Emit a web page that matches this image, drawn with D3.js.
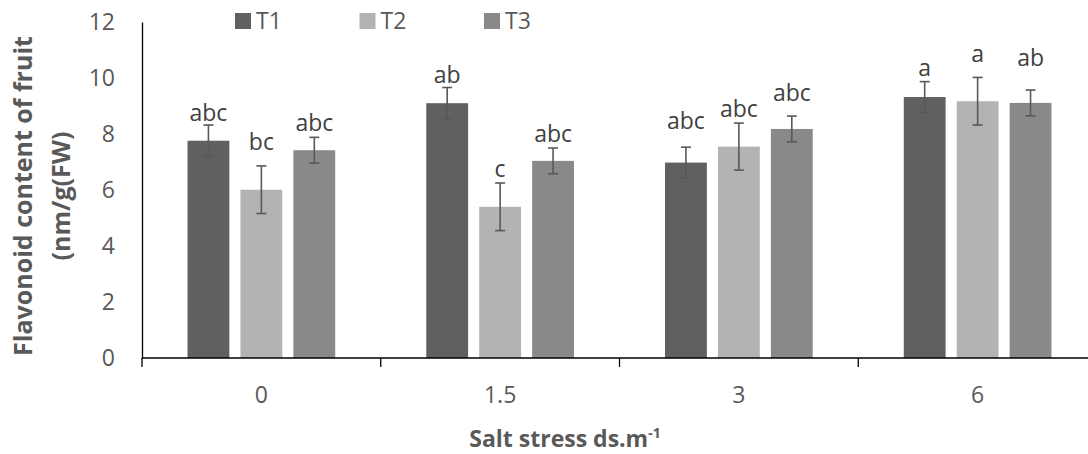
<!DOCTYPE html>
<html>
<head>
<meta charset="utf-8">
<script src="https://cdn.jsdelivr.net/npm/d3@7"></script>
<style>
  body { margin: 0; background: #fff; }
  text { font-family: "Open Sans", "Noto Sans", sans-serif; }
</style>
</head>
<body>
<div id="chart"></div>
<script>
// data
const categories = ["0", "1.5", "3", "6"];
const seriesNames = ["T1", "T2", "T3"];
const T1 = [7.76, 9.10, 6.98, 9.32];
const T2 = [6.01, 5.40, 7.55, 9.17];
const T3 = [7.42, 7.04, 8.18, 9.11];
const errT1 = [0.56, 0.56, 0.55, 0.55];
const errT2 = [0.85, 0.85, 0.84, 0.85];
const errT3 = [0.46, 0.46, 0.46, 0.46];
// significance letters, and the level (in chart units) where each one sits
const letters = [
  ["abc", "bc", "abc"],
  ["ab", "c", "abc"],
  ["abc", "abc", "abc"],
  ["a", "a", "ab"]
];
const letterLevel = [
  [8.46, 7.43, 8.12],
  [9.83, 6.48, 7.72],
  [8.17, 8.60, 9.19],
  [10.07, 10.58, 10.43]
];
const yTicks = [0, 2, 4, 6, 8, 10, 12];

const values = [T1, T2, T3];
const errors = [errT1, errT2, errT3];
const colors = ["#606060", "#b3b3b3", "#898989"];

const W = 1088, H = 454;
const plotLeft = 142, plotRight = 1097, plotTop = 22, plotBottom = 358;

const svg = d3.select("#chart").append("svg")
    .attr("width", W)
    .attr("height", H);

const x0 = d3.scaleBand().domain(categories).range([plotLeft, plotRight]);
const x1 = d3.scaleBand().domain(seriesNames)
    .range([0, x0.bandwidth()])
    .paddingInner(0.21)
    .paddingOuter(0.86);
const y = d3.scaleLinear().domain([0, 12]).range([plotBottom, plotTop]);

// y axis
const yAxis = svg.append("g")
    .attr("transform", "translate(" + plotLeft + ",0)")
    .call(d3.axisLeft(y).tickValues(yTicks).tickSize(0).tickPadding(27).tickSizeOuter(0));
yAxis.select(".domain").attr("stroke", "#000").attr("stroke-width", 1.3);
yAxis.selectAll("text")
    .attr("fill", "#595959")
    .style("font-size", "23px");

// bars
const groups = svg.selectAll(".grp")
    .data(categories)
    .enter().append("g")
    .attr("transform", d => "translate(" + x0(d) + ",0)");

seriesNames.forEach((s, si) => {
  groups.append("rect")
    .attr("x", x1(s))
    .attr("y", (d, ci) => y(values[si][ci]))
    .attr("width", x1.bandwidth())
    .attr("height", (d, ci) => y(0) - y(values[si][ci]))
    .attr("fill", colors[si]);
});

// error bars
seriesNames.forEach((s, si) => {
  const cx = x1(s) + x1.bandwidth() / 2;
  const eb = groups.append("g").attr("stroke", "#595959").attr("stroke-width", 1.6);
  eb.append("line")
    .attr("x1", cx).attr("x2", cx)
    .attr("y1", (d, ci) => y(values[si][ci] + errors[si][ci]))
    .attr("y2", (d, ci) => y(values[si][ci] - errors[si][ci]));
  eb.append("line")
    .attr("x1", cx - 5).attr("x2", cx + 5)
    .attr("y1", (d, ci) => y(values[si][ci] + errors[si][ci]))
    .attr("y2", (d, ci) => y(values[si][ci] + errors[si][ci]));
  eb.append("line")
    .attr("x1", cx - 5).attr("x2", cx + 5)
    .attr("y1", (d, ci) => y(values[si][ci] - errors[si][ci]))
    .attr("y2", (d, ci) => y(values[si][ci] - errors[si][ci]));
});

// letters
seriesNames.forEach((s, si) => {
  groups.append("text")
    .attr("x", x1(s) + x1.bandwidth() / 2)
    .attr("y", (d, ci) => y(letterLevel[ci][si]))
    .attr("text-anchor", "middle")
    .attr("fill", "#404040")
    .style("font-size", "23px")
    .text((d, ci) => letters[ci][si]);
});

// x axis
svg.append("line")
    .attr("x1", plotLeft).attr("x2", plotRight)
    .attr("y1", y(0)).attr("y2", y(0))
    .attr("stroke", "#000").attr("stroke-width", 1.3);
svg.selectAll(".xtick")
    .data(categories.concat(["end"]))
    .enter().append("line")
    .attr("x1", d => d === "end" ? plotRight : x0(d))
    .attr("x2", d => d === "end" ? plotRight : x0(d))
    .attr("y1", y(0)).attr("y2", y(0) + 9)
    .attr("stroke", "#000").attr("stroke-width", 1.3);
svg.selectAll(".xlab")
    .data(categories)
    .enter().append("text")
    .attr("x", d => x0(d) + x0.bandwidth() / 2)
    .attr("y", 403)
    .attr("text-anchor", "middle")
    .attr("fill", "#595959")
    .style("font-size", "23px")
    .text(d => d);

// axis titles
const xt = svg.append("text")
    .attr("x", 565).attr("y", 447)
    .attr("text-anchor", "middle")
    .attr("fill", "#595959")
    .style("font-size", "23px")
    .style("font-weight", "bold");
xt.append("tspan").text("Salt stress ds.m");
xt.append("tspan").attr("dy", -9).style("font-size", "14px").text("-1");

const yt = svg.append("text")
    .attr("transform", "translate(32,196) rotate(-90)")
    .attr("text-anchor", "middle")
    .attr("fill", "#595959")
    .style("font-size", "25px")
    .style("font-weight", "bold");
yt.append("tspan").attr("x", 0).attr("y", 0).text("Flavonoid content of fruit");
yt.append("tspan").attr("x", 0).attr("y", 38).text("(nm/g(FW)");

// legend
const legend = svg.selectAll(".leg")
    .data(seriesNames)
    .enter().append("g")
    .attr("transform", (d, i) => "translate(" + (235 + i * 124.5) + ",13)");
legend.append("rect")
    .attr("width", 16).attr("height", 16)
    .attr("fill", (d, i) => colors[i]);
legend.append("text")
    .attr("x", 21).attr("y", 16)
    .attr("fill", "#595959")
    .style("font-size", "23px")
    .text(d => d);
</script>
</body>
</html>
